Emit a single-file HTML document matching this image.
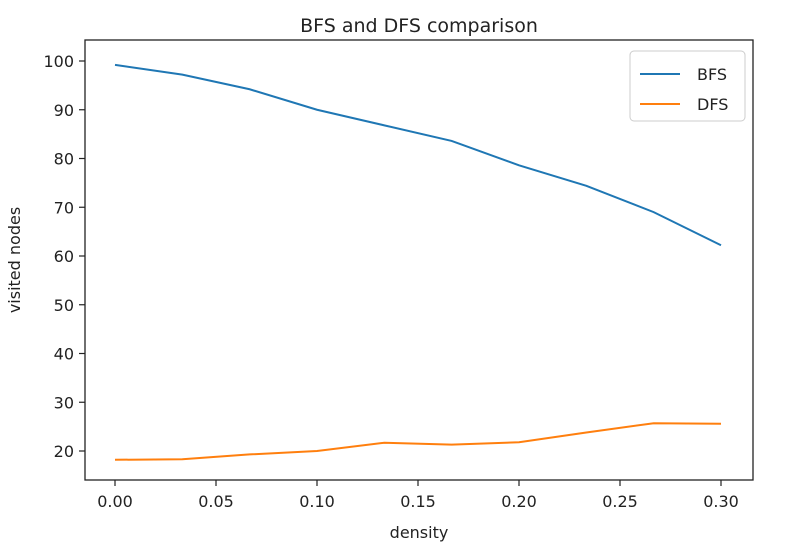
<!DOCTYPE html>
<html><head><meta charset="utf-8"><style>
body{margin:0;background:#fff;}
text{font-family:"DejaVu Sans","Liberation Sans",sans-serif;fill:#222;}
</style></head><body>
<svg id="chart" width="792" height="552" xmlns="http://www.w3.org/2000/svg"></svg>
<script>
const xValues=[0,1/30,2/30,0.1,4/30,5/30,0.2,7/30,8/30,0.3];
const bfsValues=[99.2,97.2,94.2,90,86.8,83.6,78.6,74.4,69,62.2];
const dfsValues=[18.2,18.3,19.3,20,21.7,21.3,21.8,23.8,25.7,25.6];
const xTicks=[0,0.05,0.1,0.15,0.2,0.25,0.3];
const xTickLabels=["0.00","0.05","0.10","0.15","0.20","0.25","0.30"];
const yTicks=[20,30,40,50,60,70,80,90,100];
const L=85,R=753,T=40,B=480;
const sx=v=>115+v*(721-115)/0.3;
const sy=v=>451-(v-20)*48.75/10;
const svg=document.getElementById('chart');
const NS='http://www.w3.org/2000/svg';
function mk(tag,attrs,parent){const e=document.createElementNS(NS,tag);for(const k in attrs)e.setAttribute(k,attrs[k]);(parent||svg).appendChild(e);return e;}
let f=mk('rect',{x:L,y:T,width:R-L,height:B-T,fill:'none',stroke:'#222','stroke-width':1.3});


xTicks.forEach((t,i)=>{
 const x=sx(t);
 const l=mk('line',{x1:x,x2:x,y1:B,y2:B+6,stroke:'#222','stroke-width':1.2});
 
 
 const tx=mk('text',{x:x,y:B+27,'text-anchor':'middle','font-size':16});
 tx.textContent=xTickLabels[i];
 
 
});
yTicks.forEach(t=>{
 const y=sy(t);
 const l=mk('line',{x1:L-6,x2:L,y1:y,y2:y,stroke:'#222','stroke-width':1.2});
 
 
 const tx=mk('text',{x:L-11,y:y+6,'text-anchor':'end','font-size':16});
 tx.textContent=String(t);
 
 
});
function line(vals,color,name){
 const p=mk('polyline',{points:vals.map((v,i)=>sx(xValues[i])+','+sy(v)).join(' '),fill:'none',stroke:color,'stroke-width':2});
 
 
}
line(bfsValues,'#1f77b4','bfs-line');
line(dfsValues,'#ff7f0e','dfs-line');
let t=mk('text',{x:419,y:32,'text-anchor':'middle','font-size':19});t.textContent='BFS and DFS comparison';


t=mk('text',{x:419,y:538,'text-anchor':'middle','font-size':16});t.textContent='density';


t=mk('text',{x:20,y:260,'text-anchor':'middle','font-size':16,transform:'rotate(-90 20 260)'});t.textContent='visited nodes';


const g=mk('g',{});


mk('rect',{x:630,y:51,width:115,height:70,rx:4,fill:'#fff',stroke:'#ccc'},g);
[['BFS','#1f77b4',74],['DFS','#ff7f0e',104]].forEach(([n,c,y])=>{
 const ln=mk('line',{x1:640,x2:680,y1:y,y2:y,stroke:c,'stroke-width':2},g);
 
 
 const tx=mk('text',{x:697,y:y+6,'font-size':16},g);tx.textContent=n;
 
 
});
</script>
</body></html>
